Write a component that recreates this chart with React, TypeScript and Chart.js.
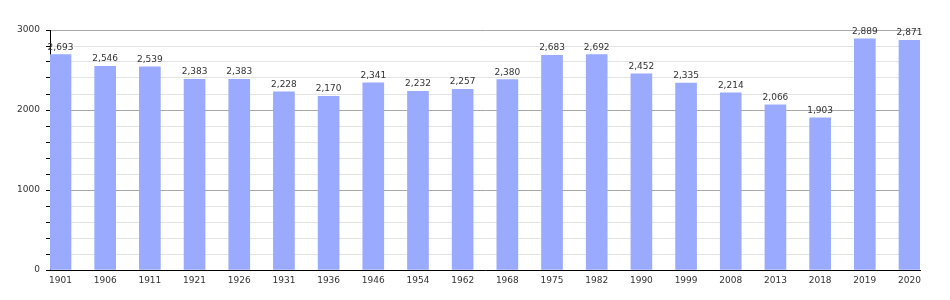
import React, { useEffect, useRef } from "react";
import { Chart, registerables } from "chart.js";

Chart.register(...registerables);

const years = ["1901", "1906", "1911", "1921", "1926", "1931", "1936", "1946", "1954", "1962", "1968", "1975", "1982", "1990", "1999", "2008", "2013", "2018", "2019", "2020"];
const population = [2693, 2546, 2539, 2383, 2383, 2228, 2170, 2341, 2232, 2257, 2380, 2683, 2692, 2452, 2335, 2214, 2066, 1903, 2889, 2871];
const yTicksMajor = [0, 1000, 2000, 3000];

const FONT = "DejaVu Sans";
const TEXT = "#333333";

const valueLabels = {
  id: "valueLabels",
  afterDatasetsDraw(chart: any) {
    const ctx = chart.ctx;
    const meta = chart.getDatasetMeta(0);
    ctx.save();
    ctx.font = `9px "${FONT}"`;
    ctx.fillStyle = TEXT;
    ctx.textAlign = "center";
    ctx.textBaseline = "alphabetic";
    meta.data.forEach((bar: any, i: number) => {
      const v = population[i];
      ctx.fillText(v.toLocaleString("en-US"), bar.x, bar.y - 5);
    });
    ctx.restore();
  },
};

export default function App() {
  const ref = useRef<HTMLCanvasElement>(null);
  useEffect(() => {
    if (!ref.current) return;
    const chart = new Chart(ref.current, {
      type: "bar",
      data: {
        datasets: [
          {
            data: population.map((v, i) => ({ x: i, y: v })),
            backgroundColor: "#99aaff",
            borderWidth: 0,
            barThickness: 21,
          },
        ],
      },
      options: {
        animation: false,
        responsive: false,
        maintainAspectRatio: false,
        layout: { padding: { top: 30, right: 30, left: 0, bottom: 0 } },
        plugins: { legend: { display: false }, tooltip: { enabled: false } },
        scales: {
          x: {
            type: "linear",
            offset: false,
            min: -0.235,
            max: 19.235,
            afterBuildTicks: (scale: any) => {
              scale.ticks = years.map((_, i) => ({ value: i }));
            },
            afterFit: (scale: any) => {
              scale.height = 30;
            },
            grid: { display: false, drawTicks: false, offset: false },
            border: { display: true, color: "#000000", width: 1 },
            ticks: {
              autoSkip: false,
              maxRotation: 0,
              padding: 5,
              font: { family: FONT, size: 9 },
              color: TEXT,
              callback: (v: any) => years[Math.round(Number(v))] ?? "",
            },
          },
          y: {
            min: 0,
            max: 3000,
            afterFit: (scale: any) => {
              scale.width = 50;
            },
            afterBuildTicks: (scale: any) => {
              const t: any[] = [];
              for (let v = 0; v <= 3000; v += 200) t.push({ value: v });
              scale.ticks = t;
            },
            grid: {
              color: (c: any) => (c.tick && yTicksMajor.includes(c.tick.value) ? "#a8a8a8" : "#e4e4e4"),
              tickColor: "#000000",
              tickLength: 4,
            },
            border: { display: true, color: "#000000", width: 1 },
            ticks: {
              autoSkip: false,
              padding: 6,
              font: { family: FONT, size: 9 },
              color: TEXT,
              callback: (v: any) => (yTicksMajor.includes(Number(v)) ? String(v) : ""),
            },
          },
        },
      },
      plugins: [valueLabels],
    });
    return () => chart.destroy();
  }, []);
  return (
    <div style={{ position: "absolute", left: 0, top: 0, width: 950, height: 300, background: "#fff" }}>
      <canvas ref={ref} width={950} height={300} style={{ width: 950, height: 300 }} />
    </div>
  );
}
